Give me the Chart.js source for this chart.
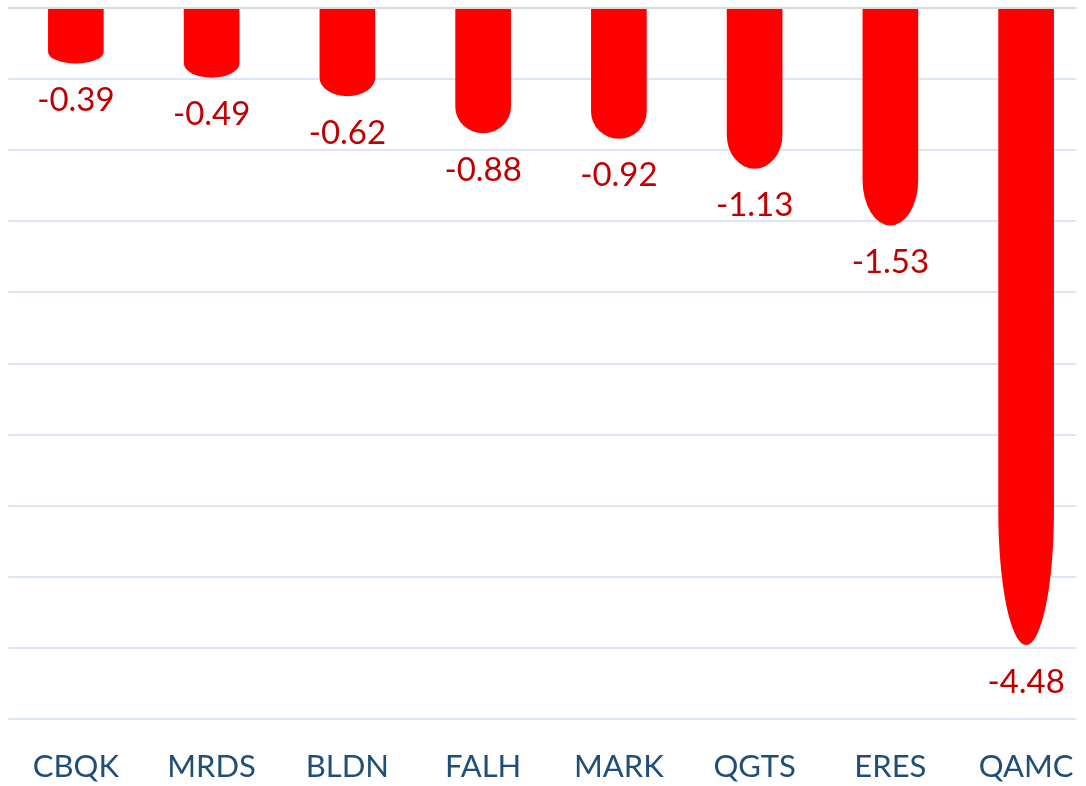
<!DOCTYPE html>
<html>
<head>
<meta charset="utf-8">
<script src="https://cdn.jsdelivr.net/npm/chart.js@4.4.1/dist/chart.umd.min.js"></script>
<style>
  html, body { margin: 0; padding: 0; background: #ffffff; }
  #wrap { position: relative; width: 1086px; height: 786px; }
</style>
</head>
<body>
<div id="wrap"><canvas id="chart"></canvas></div>
<script>
const tickers = ['CBQK', 'MRDS', 'BLDN', 'FALH', 'MARK', 'QGTS', 'ERES', 'QAMC'];
const changes = [-0.39, -0.49, -0.62, -0.88, -0.92, -1.13, -1.53, -4.48];

const BAR_RED = '#ff0000';
const LABEL_RED = '#c00000';
const AXIS_BLUE = '#1f4e79';

// the original picture is cropped on the right, so the category axis runs a bit past the canvas
const widenX = {
  id: 'widenX',
  afterLayout(chart) {
    const s = chart.scales.x;
    s.right = s.left + 1086;
    s.width = 1086;
    s.configure();
  }
};

// bars with a half-ellipse at the bottom, plus value labels below each
const roundedBars = {
  id: 'roundedBars',
  afterDatasetsDraw(chart) {
    const ctx = chart.ctx;
    const meta = chart.getDatasetMeta(0);
    ctx.save();
    meta.data.forEach((bar, i) => {
      const { x, y, base, width } = bar.getProps(['x', 'y', 'base', 'width'], true);
      const len = y - base;
      const rh = len * 0.21;
      const hw = width / 2;
      ctx.beginPath();
      ctx.moveTo(x - hw, base);
      ctx.lineTo(x - hw, y - rh);
      ctx.ellipse(x, y - rh, hw, rh, 0, Math.PI, 0, true);
      ctx.lineTo(x + hw, base);
      ctx.closePath();
      ctx.fillStyle = BAR_RED;
      ctx.fill();

      ctx.fillStyle = LABEL_RED;
      ctx.font = '33px Lato';
      ctx.textAlign = 'center';
      ctx.textBaseline = 'middle';
      ctx.fillText(changes[i].toFixed(2), x, y + 37);
    });
    ctx.restore();
  }
};

new Chart(document.getElementById('chart'), {
  type: 'bar',
  data: {
    labels: tickers,
    datasets: [{
      data: changes,
      backgroundColor: 'rgba(0,0,0,0)',
      borderWidth: 0,
      barPercentage: 0.41,
      categoryPercentage: 1,
    }],
  },
  options: {
    responsive: true,
    maintainAspectRatio: false,
    animation: false,
    layout: { padding: { top: 8, right: 0, left: 0, bottom: 0 } },
    plugins: {
      legend: { display: false },
      tooltip: { enabled: false },
    },
    scales: {
      x: {
        grid: { display: false, drawTicks: false },
        border: { display: false },
        ticks: {
          color: AXIS_BLUE,
          font: { family: 'Lato', size: 31 },
          padding: 29,
          maxRotation: 0,
        },
        afterFit(scale) { scale.height = 67; },
      },
      y: {
        min: -5,
        max: 0,
        ticks: { display: false, stepSize: 0.5 },
        border: { display: false },
        grid: {
          drawTicks: false,
          lineWidth: 2,
          color: (c) => (c.tick && c.tick.value === 0 ? '#d9d9d9' : '#dce6f2'),
        },
        afterFit(scale) { scale.width = 8; },
      },
    },
  },
  plugins: [widenX, roundedBars],
});
</script>
</body>
</html>
